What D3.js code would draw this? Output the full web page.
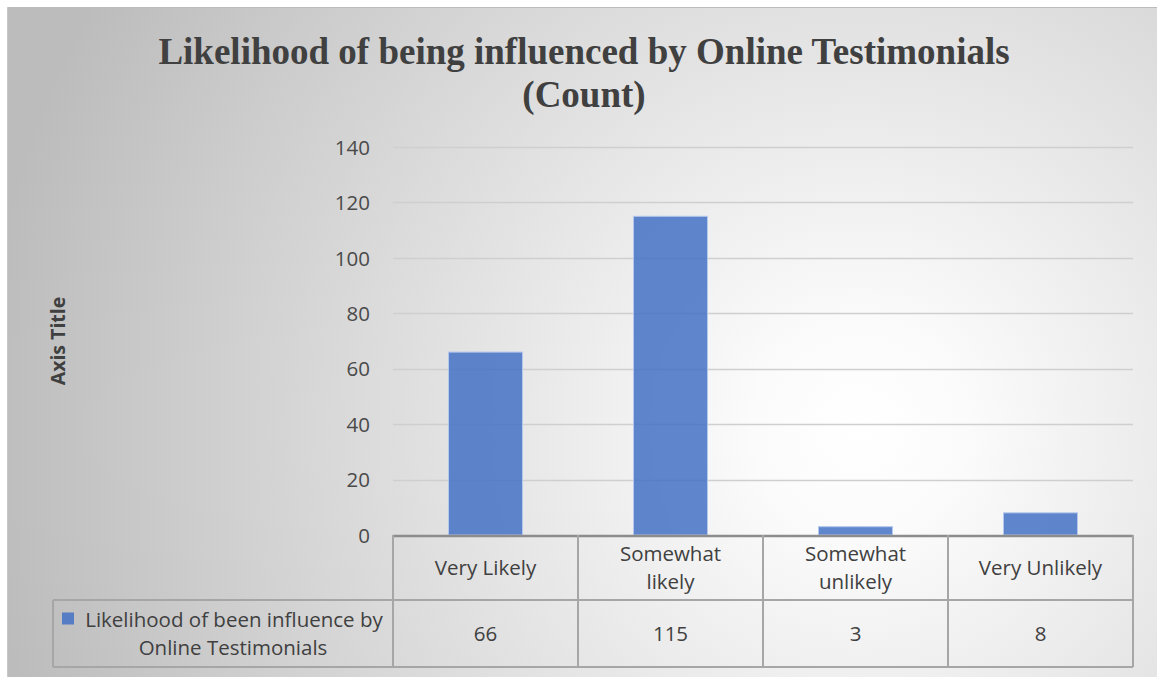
<!DOCTYPE html>
<html><head><meta charset="utf-8">
<script src="https://cdn.jsdelivr.net/npm/d3@7"></script>
<style>html,body{margin:0;padding:0;background:#fff;}svg{display:block;}</style>
</head><body>
<svg id="chart" width="1157" height="677"></svg>
<script>
const categories = [["Very Likely"], ["Somewhat", "likely"], ["Somewhat", "unlikely"], ["Very Unlikely"]];
const categoryKeys = ["Very Likely", "Somewhat likely", "Somewhat unlikely", "Very Unlikely"];
const values = [66, 115, 3, 8];
const yTicks = [0, 20, 40, 60, 80, 100, 120, 140];
const seriesName = ["Likelihood of been influence by", "Online Testimonials"];
const titleLines = ["Likelihood of being influenced by Online Testimonials", "(Count)"];
const axisTitle = "Axis Title";

const svg = d3.select("#chart");
const W = 1157, H = 677;
const plot = {left: 393, right: 1133, top: 147, bottom: 535};
const rowH = [65, 67];
const legendLeft = 53;
const sans = "'Open Sans', 'Noto Sans', sans-serif";
const fs = 20.5;

const defs = svg.append("defs");
const grad = defs.append("radialGradient").attr("id", "bg")
  .attr("gradientUnits", "userSpaceOnUse")
  .attr("cx", 860).attr("cy", 430).attr("r", 880).attr("fx", 860).attr("fy", 430);
grad.append("stop").attr("offset", "0").attr("stop-color", "#ffffff");
grad.append("stop").attr("offset", "0.12").attr("stop-color", "#fbfbfb");
grad.append("stop").attr("offset", "1").attr("stop-color", "#bcbcbc");

svg.append("rect").attr("x", 7).attr("y", 7).attr("width", W - 7).attr("height", H - 7)
  .attr("fill", "url(#bg)");
svg.append("line").attr("x1", 7).attr("x2", W).attr("y1", 7.5).attr("y2", 7.5)
  .attr("stroke", "#bcbcbc").attr("stroke-width", 1);
svg.append("line").attr("x1", 7.5).attr("x2", 7.5).attr("y1", 7).attr("y2", H)
  .attr("stroke", "#c9c9c9").attr("stroke-width", 1);

// title
svg.append("g").selectAll("text").data(titleLines).join("text")
  .attr("x", 584).attr("y", (d, i) => 64 + i * 43)
  .attr("text-anchor", "middle")
  .attr("font-family", "'Liberation Serif', 'Times New Roman', serif")
  .attr("font-weight", "bold").attr("font-size", 37).attr("fill", "#404040")
  .text(d => d);

const x = d3.scaleBand().domain(categoryKeys).range([plot.left, plot.right]).paddingInner(0.6).paddingOuter(0.3);
const xCol = d3.scaleBand().domain(categoryKeys).range([plot.left, plot.right]);
const y = d3.scaleLinear().domain([0, 140]).range([plot.bottom, plot.top]);

// gridlines
svg.append("g").selectAll("line").data(yTicks.filter(t => t > 0)).join("line")
  .attr("x1", plot.left).attr("x2", plot.right)
  .attr("y1", d => Math.round(y(d)) + 0.5).attr("y2", d => Math.round(y(d)) + 0.5)
  .attr("stroke", "#cfcfcf").attr("stroke-width", 1.3);

// y axis labels
const yAxis = d3.axisLeft(y).tickValues(yTicks).tickSize(0).tickPadding(0);
const yg = svg.append("g").attr("transform", `translate(370,0)`).call(yAxis);
yg.select(".domain").remove();
yg.selectAll("text").attr("font-family", sans).attr("font-size", fs).attr("fill", "#4a4a4a").attr("dy", "0.35em");

// bars
svg.append("g").selectAll("rect").data(values).join("rect")
  .attr("x", (d, i) => x(categoryKeys[i]))
  .attr("width", x.bandwidth())
  .attr("y", d => y(d))
  .attr("height", d => y(0) - y(d))
  .attr("fill", "#4472c4").attr("fill-opacity", 0.85)
  .attr("stroke", "#b4c7ec").attr("stroke-width", 1);

// axis title
svg.append("text").attr("transform", "translate(65,341) rotate(-90)")
  .attr("text-anchor", "middle").attr("font-family", sans).attr("font-weight", "bold")
  .attr("font-size", 19.5).attr("fill", "#404040").text(axisTitle);

// data table
const tbl = svg.append("g");
const tableStroke = "#a6a6a6";
const r0 = plot.bottom, r1 = plot.bottom + rowH[0], r2 = r1 + rowH[1];
tbl.append("line").attr("x1", plot.left).attr("x2", plot.right).attr("y1", r0 + 1).attr("y2", r0 + 1)
  .attr("stroke", "#8c8c8c").attr("stroke-width", 2.5);
tbl.append("line").attr("x1", legendLeft).attr("x2", plot.right).attr("y1", r1).attr("y2", r1)
  .attr("stroke", tableStroke).attr("stroke-width", 2);
tbl.append("line").attr("x1", legendLeft).attr("x2", plot.right).attr("y1", r2).attr("y2", r2)
  .attr("stroke", tableStroke).attr("stroke-width", 2);
const colEdges = categoryKeys.map(k => xCol(k)).concat([plot.right]);
tbl.selectAll("line.v").data(colEdges).join("line").attr("class", "v")
  .attr("x1", d => d).attr("x2", d => d).attr("y1", r0).attr("y2", r2)
  .attr("stroke", tableStroke).attr("stroke-width", 2);
tbl.append("line").attr("x1", legendLeft).attr("x2", legendLeft).attr("y1", r1).attr("y2", r2)
  .attr("stroke", tableStroke).attr("stroke-width", 2);

// category labels
const catG = tbl.selectAll("text.cat").data(categories).join("text").attr("class", "cat")
  .attr("text-anchor", "middle").attr("font-family", sans).attr("font-size", fs).attr("fill", "#404040");
catG.each(function(lines, i) {
  const cx = xCol(categoryKeys[i]) + xCol.bandwidth() / 2;
  const mid = (r0 + r1) / 2;
  const lh = 28;
  const start = mid - (lines.length - 1) * lh / 2;
  d3.select(this).selectAll("tspan").data(lines).join("tspan")
    .attr("x", cx).attr("y", (d, j) => start + j * lh).attr("dy", "0.35em").text(d => d);
});

// values row
tbl.selectAll("text.val").data(values).join("text").attr("class", "val")
  .attr("x", (d, i) => xCol(categoryKeys[i]) + xCol.bandwidth() / 2)
  .attr("y", (r1 + r2) / 2).attr("dy", "0.35em")
  .attr("text-anchor", "middle").attr("font-family", sans).attr("font-size", fs).attr("fill", "#404040")
  .text(d => d);

// legend cell
const legMid = (r1 + r2) / 2;
tbl.append("rect").attr("x", 62).attr("y", legMid - 21).attr("width", 12).attr("height", 12)
  .attr("fill", "#4472c4").attr("fill-opacity", 0.85);
const legT = tbl.append("text").attr("text-anchor", "middle").attr("font-family", sans)
  .attr("font-size", fs).attr("fill", "#404040");
legT.selectAll("tspan").data(seriesName).join("tspan")
  .attr("x", (d, j) => j === 0 ? 234 : 233)
  .attr("y", (d, j) => legMid - 14 + j * 28).attr("dy", "0.35em").text(d => d);
</script>
</body></html>
